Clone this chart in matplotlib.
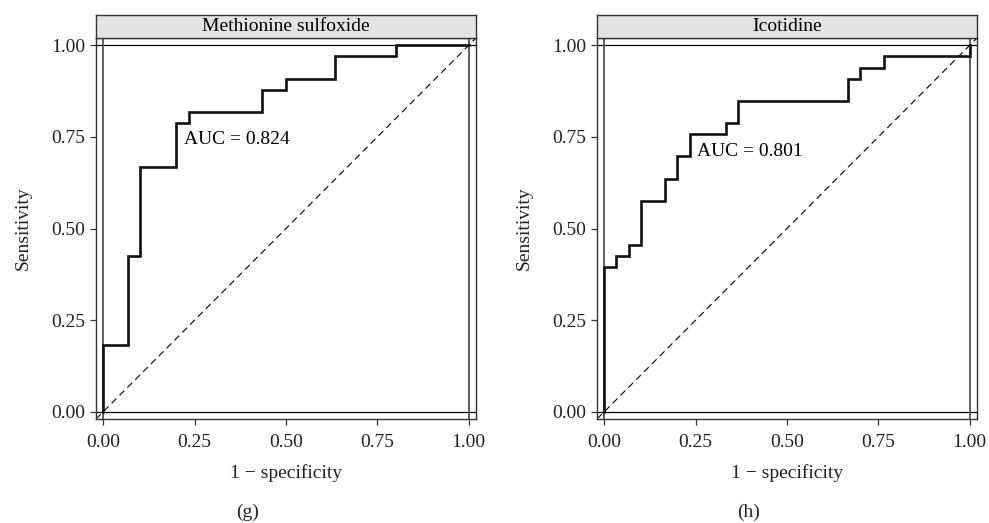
import matplotlib
matplotlib.use("Agg")
import matplotlib.pyplot as plt
import numpy as np

plt.rcParams["font.family"] = ["Liberation Serif", "DejaVu Serif"]

# ── data: ROC step corners (1 - specificity, sensitivity) ──
panel_titles = ["Methionine sulfoxide", "Icotidine"]
panel_tags = ["(g)", "(h)"]
auc_labels = ["AUC = 0.824", "AUC = 0.801"]
auc_pos = [(0.222, 0.744), (0.254, 0.71)]

fpr_g = np.array([0, 0, 2, 3, 6, 7, 13, 15, 19, 24, 30]) / 30
tpr_g = np.array([0, 6, 14, 22, 26, 27, 29, 30, 32, 33, 33]) / 33

fpr_h = np.array([0, 0, 1, 2, 3, 5, 6, 7, 10, 11, 20, 21, 23, 30]) / 30
tpr_h = np.array([0, 13, 14, 15, 19, 21, 23, 25, 26, 28, 30, 31, 32, 33]) / 33

curves = [(fpr_g, tpr_g), (fpr_h, tpr_h)]
ticks = [0.0, 0.25, 0.5, 0.75, 1.0]
tick_labels = ["0.00", "0.25", "0.50", "0.75", "1.00"]

W, H = 989, 523
fig = plt.figure(figsize=(W / 100, H / 100), dpi=100)

lefts = [96, 597]
ax_w = 380
ax_top, ax_bot = 38, 419
strip_top = 15
FS = 14

for i, (fpr, tpr) in enumerate(curves):
    x0 = lefts[i]
    ax = fig.add_axes([x0 / W, (H - ax_bot) / H, ax_w / W, (ax_bot - ax_top) / H])
    ax.set_xlim(-0.02, 1.02)
    ax.set_ylim(-0.02, 1.02)

    # reference frame lines at 0 and 1
    ax.axhline(0, color="black", lw=0.9, zorder=1)
    ax.axhline(1, color="black", lw=0.9, zorder=1)
    ax.axvline(0, color="#555555", lw=1.3, zorder=1)
    ax.axvline(1, color="#555555", lw=1.3, zorder=1)

    # chance line
    ax.plot([-0.02, 1.02], [-0.02, 1.02], color="black", lw=0.8,
            ls=(0, (6, 4)), zorder=2)

    ax.plot(fpr, tpr, drawstyle="steps-post", color="#111111", lw=1.9,
            solid_joinstyle="miter", zorder=3)

    ax.text(auc_pos[i][0], auc_pos[i][1], auc_labels[i], fontsize=FS,
            ha="left", va="center")

    ax.set_xticks(ticks)
    ax.set_xticklabels(tick_labels)
    ax.set_yticks(ticks)
    ax.set_yticklabels(tick_labels)
    ax.tick_params(direction="out", length=4, width=0.9, colors="#333333",
                   labelcolor="#222222", labelsize=FS)
    ax.tick_params(axis="x", pad=7)
    ax.tick_params(axis="y", pad=4)
    for sp in ax.spines.values():
        sp.set_color("#333333")
        sp.set_linewidth(1.0)

    # facet strip
    sax = fig.add_axes([x0 / W, (H - ax_top) / H, ax_w / W, (ax_top - strip_top) / H])
    sax.set_facecolor("#e3e3e3")
    sax.set_xticks([])
    sax.set_yticks([])
    for sp in sax.spines.values():
        sp.set_color("#333333")
        sp.set_linewidth(1.0)
    sax.text(0.5, 0.5, panel_titles[i], fontsize=FS, ha="center", va="center",
             transform=sax.transAxes)

    cx = (x0 + ax_w / 2) / W
    fig.text(cx, (H - 473) / H, "1 \u2212 specificity", fontsize=FS,
             ha="center", va="center", color="#222222")
    fig.text((x0 + 152) / W, (H - 512) / H, panel_tags[i], fontsize=FS,
             ha="center", va="center", color="#222222")
    fig.text((x0 - 73) / W, (H - 228) / H, "Sensitivity", fontsize=FS,
             rotation=90, ha="center", va="center", color="#222222")

fig.savefig("out.png", dpi=100)
